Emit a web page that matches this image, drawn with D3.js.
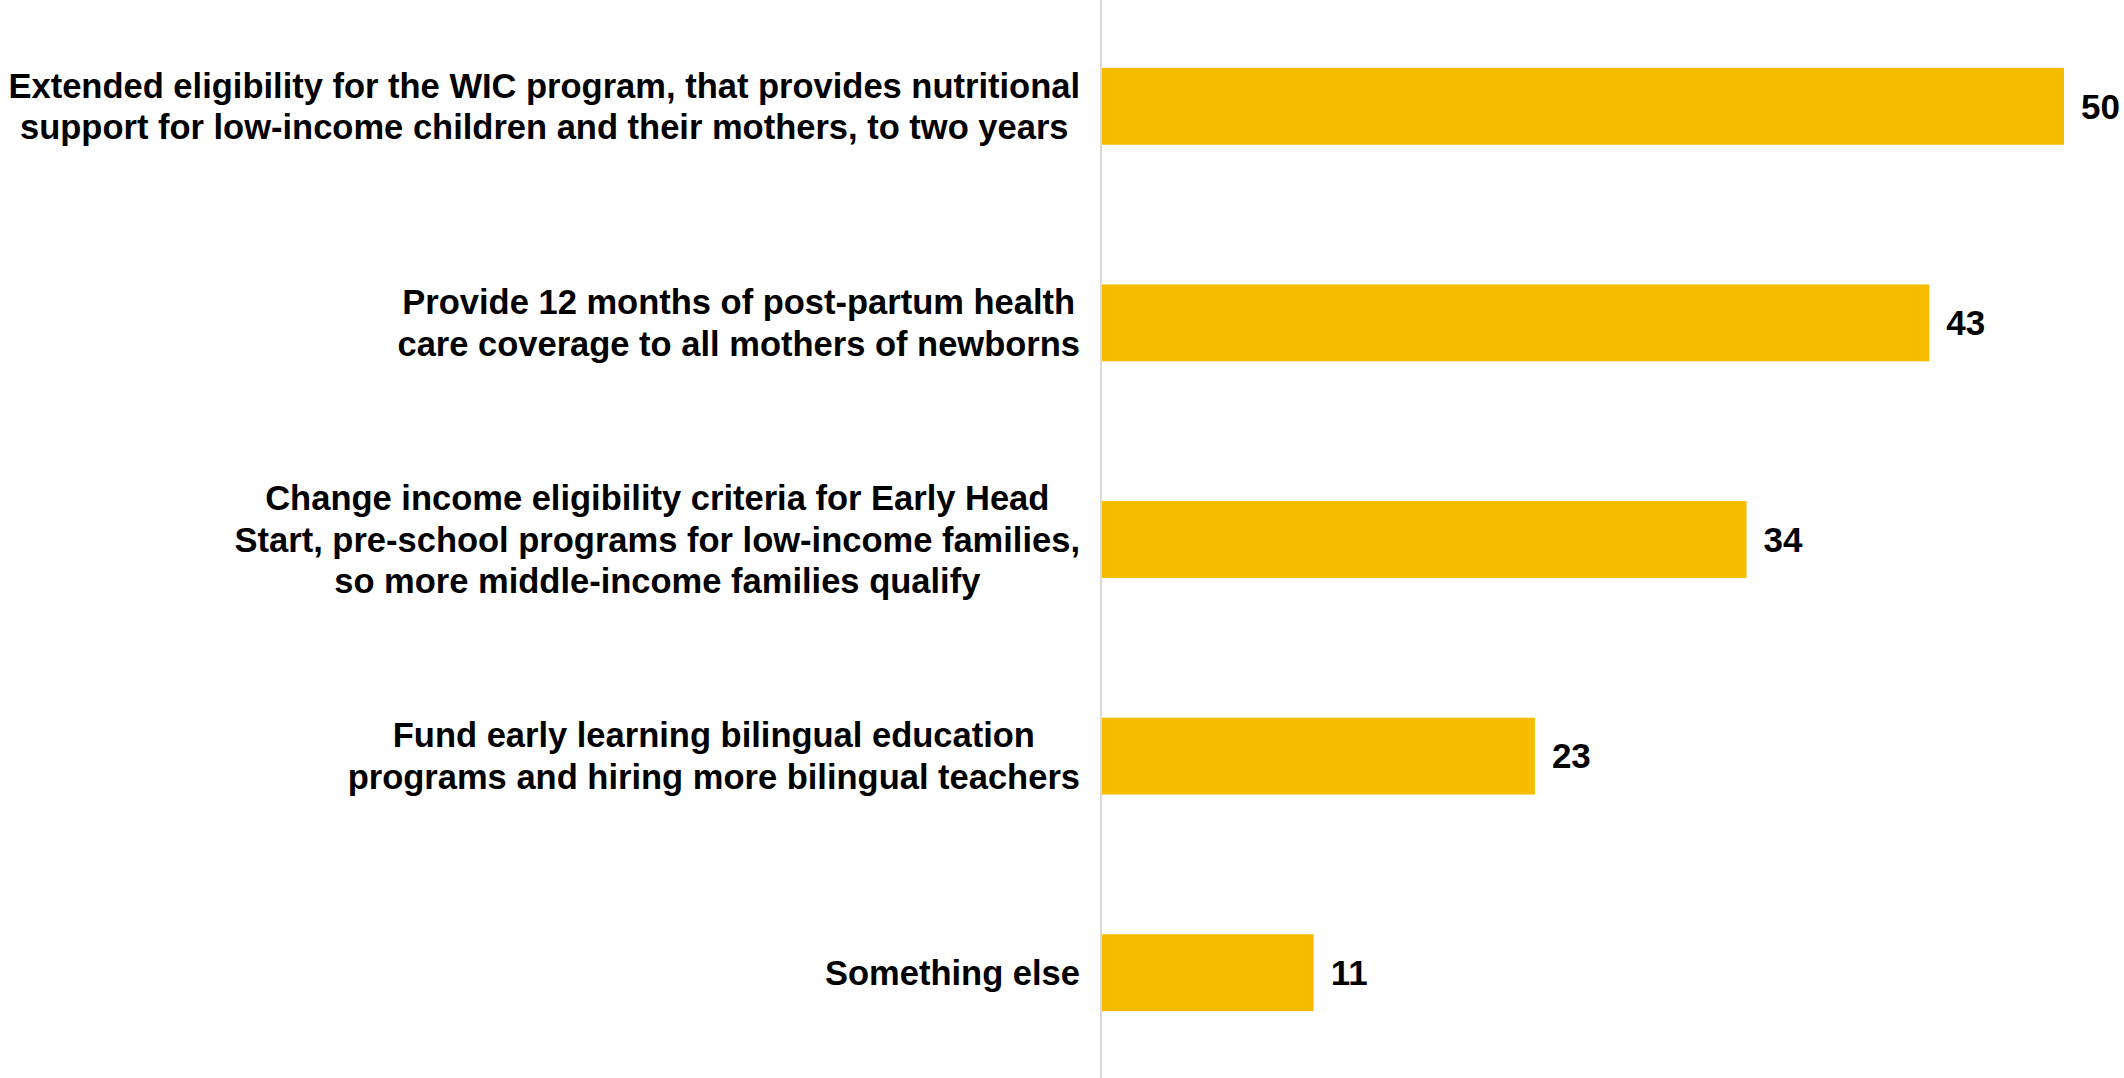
<!DOCTYPE html>
<html>
<head>
<meta charset="utf-8">
<script src="https://cdn.jsdelivr.net/npm/d3@7"></script>
<style>
  html, body { margin: 0; padding: 0; background: #fff; }
  svg { display: block; }
  text { font-family: "Liberation Sans", Arial, sans-serif; font-weight: bold; fill: #000; }
</style>
</head>
<body>
<svg id="chart"></svg>
<script>
// ---- data ----
const categories = [
  ["Extended eligibility for the WIC program, that provides nutritional", "support for low-income children and their mothers, to two years"],
  ["Provide 12 months of post-partum health", "care coverage to all mothers of newborns"],
  ["Change income eligibility criteria for Early Head", "Start, pre-school programs for low-income families,", "so more middle-income families qualify"],
  ["Fund early learning bilingual education", "programs and hiring more bilingual teachers"],
  ["Something else"]
];
const values = [50, 43, 33.5, 22.5, 11];
const valueLabels = ["50", "43", "34", "23", "11"];

// ---- layout ----
const W = 2124, H = 1078;
const axisX = 1102;
const fontSize = 34.5;
const svg = d3.select("#chart").attr("width", W).attr("height", H);

const keys = categories.map((c, i) => i);
const y = d3.scaleBand().domain(keys).range([-2, 1081]).paddingInner(0.645).paddingOuter(0.3225);
const x = d3.scaleLinear().domain([0, 50]).range([axisX, 2064]);

// bars
svg.append("g").selectAll("rect").data(values).join("rect")
  .attr("x", x(0))
  .attr("y", (d, i) => y(i))
  .attr("width", d => x(d) - x(0))
  .attr("height", y.bandwidth())
  .attr("fill", "#F5BC00");

// axis line
svg.append("line")
  .attr("x1", axisX - 1).attr("x2", axisX - 1)
  .attr("y1", 0).attr("y2", H)
  .attr("stroke", "#d9d9d9").attr("stroke-width", 2);

// value labels
svg.append("g").selectAll("text").data(values).join("text")
  .attr("x", d => x(d) + 17)
  .attr("y", (d, i) => y(i) + y.bandwidth() / 2)
  .attr("dy", "0.35em")
  .attr("font-size", fontSize + 0.5)
  .text((d, i) => valueLabels[i]);

// category labels: lines centered within block, block right-aligned
const labelRight = 1080;
const lh = fontSize * 1.2;
const lg = svg.append("g");
categories.forEach((lines, i) => {
  const g = lg.append("g");
  const cy = y(i) + y.bandwidth() / 2;
  const texts = lines.map((t, j) => g.append("text")
    .attr("font-size", fontSize)
    .attr("text-anchor", "middle")
    .attr("y", cy + (j - (lines.length - 1) / 2) * lh)
    .attr("dy", "0.35em")
    .text(t));
  const maxW = d3.max(texts, t => t.node().getComputedTextLength());
  texts.forEach(t => t.attr("x", labelRight - maxW / 2));
});
</script>
</body>
</html>
